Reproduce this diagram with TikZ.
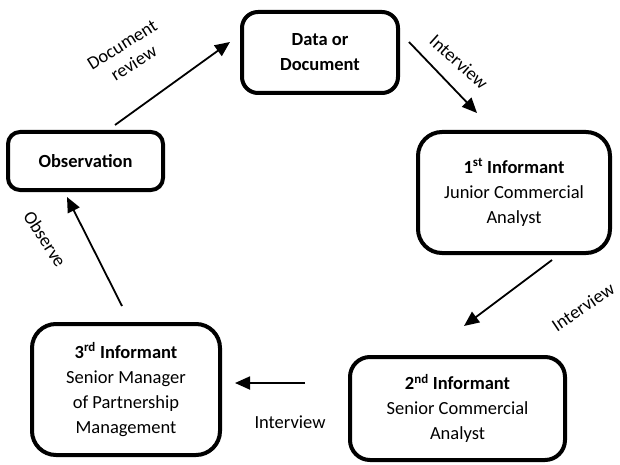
\documentclass[tikz,border=0pt]{standalone}
\usepackage{fontspec}
\setmainfont{Carlito}
\usetikzlibrary{arrows.meta}
\tikzset{
  box/.style={draw=black, line width=4pt, rounded corners=16pt, align=center, inner sep=0pt,
     font=\fontsize{18.5}{25}\selectfont},
  conn/.style={line width=1.8pt, -{Triangle[length=15pt,width=13pt]}},
  lbl/.style={font=\fontsize{18.5}{22}\selectfont, align=center, inner sep=0pt}
}
\begin{document}
\begin{tikzpicture}[x=1pt,y=-1pt]
\useasboundingbox (0,0) rectangle (620,465);
\node[box, minimum width=156pt, minimum height=81pt] (data) at (320,52.5) {\textbf{Data or}\\\textbf{Document}};
\node[box, minimum width=155pt, minimum height=58pt, rounded corners=12pt] (obs) at (85.5,161) {\textbf{Observation}};
\node[box, minimum width=192pt, minimum height=121pt, rounded corners=24pt] (inf1) at (514,192.5) {\textbf{1\textsuperscript{st} Informant}\\Junior Commercial\\Analyst};
\node[box, minimum width=215pt, minimum height=103pt, rounded corners=20pt] (inf2) at (457.5,408.5) {\textbf{2\textsuperscript{nd} Informant}\\Senior Commercial\\Analyst};
\node[box, minimum width=188pt, minimum height=131pt, rounded corners=24pt] (inf3) at (126,389.5) {\textbf{3\textsuperscript{rd} Informant}\\Senior Manager\\of Partnership\\Management};

\coordinate (a1s) at (115,125); \coordinate (a1e) at (230,42);
\coordinate (a2s) at (409,42);  \coordinate (a2e) at (477,113);
\coordinate (a3s) at (552,260); \coordinate (a3e) at (464,326);
\coordinate (a4s) at (305,383); \coordinate (a4e) at (235,383);
\coordinate (a5s) at (122,306); \coordinate (a5e) at (67,197);

\draw[conn] (a1s) -- (a1e);
\draw[conn] (a2s) -- (a2e);
\draw[conn] (a3s) -- (a3e);
\draw[conn] (a4s) -- (a4e);
\draw[conn] (a5s) -- (a5e);

\node[lbl, rotate=32] (l1) at (128,54) {Document\\review};
\node[lbl, rotate=-42] (l2) at (459,62) {Interview};
\node[lbl, rotate=34] (l3) at (583,307) {Interview};
\node[lbl] (l4) at (290,422) {Interview};
\node[lbl, rotate=-57] (l5) at (45,239) {Observe};
\end{tikzpicture}
\end{document}
